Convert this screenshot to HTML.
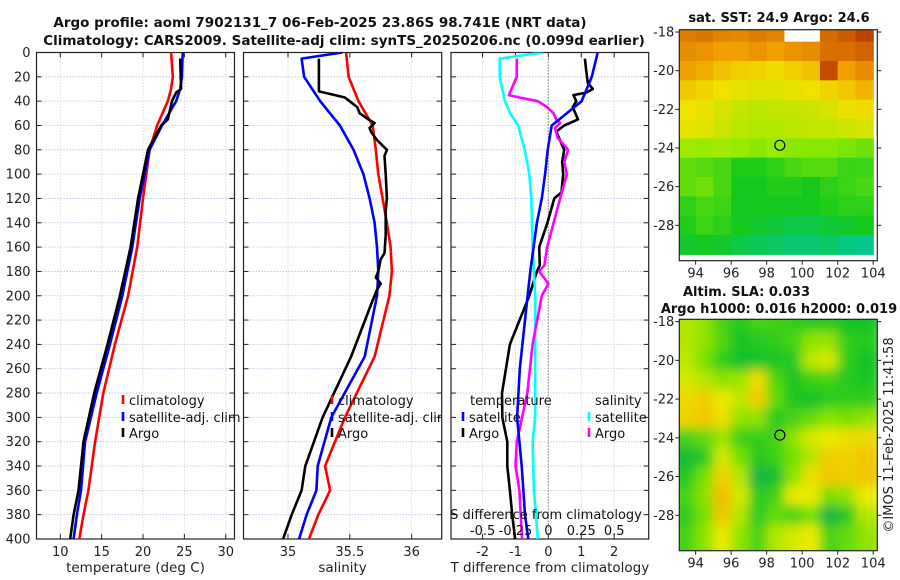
<!DOCTYPE html>
<html><head><meta charset="utf-8">
<style>
html,body{margin:0;padding:0;background:#fff;}
svg{display:block;font-family:"DejaVu Sans","Liberation Sans",sans-serif;}
</style></head>
<body>
<svg id="fig" width="900" height="580" viewBox="0 0 900 580" xmlns="http://www.w3.org/2000/svg">
<defs>
<clipPath id="c1"><rect x="36.5" y="52.5" width="198" height="486.5"/></clipPath>
<clipPath id="c2"><rect x="243.5" y="52.5" width="198.2" height="486.5"/></clipPath>
<clipPath id="c3"><rect x="451" y="52.5" width="197.7" height="486.5"/></clipPath>
<clipPath id="cm1"><rect x="679.3" y="29.7" width="198" height="231"/></clipPath>
<clipPath id="cm2"><rect x="679.3" y="319.3" width="198" height="231.4"/></clipPath>
<filter id="blur" x="-5%" y="-5%" width="110%" height="110%"><feGaussianBlur stdDeviation="5.5"/></filter>
</defs>
<text x="320" y="27" text-anchor="middle" font-weight="bold" font-size="13.5" fill="#111">Argo profile: aoml 7902131_7 06-Feb-2025 23.86S 98.741E (NRT data)</text>
<text x="344" y="45" text-anchor="middle" font-weight="bold" font-size="13.5" fill="#111">Climatology: CARS2009. Satellite-adj clim: synTS_20250206.nc (0.099d earlier)</text>
<g id="g1"></g>
<g id="g2"></g>
<g id="g3"></g>
<g id="gm1"></g>
<g id="gm2"></g>
<text x="0" y="0" transform="translate(893,435) rotate(-90)" text-anchor="middle" font-size="13" fill="#222">©IMOS 11-Feb-2025 11:41:58</text>
</svg>
<script>
// ---- profile data ----
const depthT = [0,20,30,40,60,80,120,160,200,240,280,320,360,380,400];
const tempClim = [23.4,23.6,23.4,23.0,21.7,20.8,20.0,19.3,18.2,16.6,15.2,14.2,13.4,12.8,12.3];
const tempSat = [24.8,24.7,24.5,24.0,22.3,20.8,19.6,18.7,17.5,16.0,14.4,13.0,12.5,12.0,11.6];
const depthTArgo = [5,30,33,40,55,60,80,120,160,200,240,280,320,360,380,400];
const tempArgo = [24.5,24.6,24.0,23.5,23.0,22.2,20.6,19.4,18.5,17.2,15.7,14.1,12.8,12.2,11.6,11.2];

const depthS = [0,20,40,60,80,100,120,140,160,180,200,250,300,340,360,380,400];
const salClim = [35.47,35.49,35.57,35.685,35.71,35.73,35.765,35.80,35.83,35.84,35.82,35.70,35.46,35.30,35.34,35.245,35.17];
const depthSSat = [0,5,20,40,60,80,100,120,140,160,180,200,250,300,340,360,380,400];
const salSat = [35.44,35.11,35.13,35.26,35.42,35.53,35.61,35.66,35.70,35.72,35.73,35.72,35.62,35.35,35.24,35.23,35.15,35.09];
const depthSArgo = [5,32,35,37,45,50,55,58,62,65,72,80,85,100,120,130,150,165,170,180,185,190,195,205,250,300,340,360,380,400];
const salArgo = [35.25,35.25,35.38,35.46,35.56,35.58,35.65,35.70,35.66,35.67,35.72,35.80,35.78,35.79,35.80,35.79,35.79,35.78,35.75,35.73,35.71,35.75,35.72,35.68,35.51,35.28,35.14,35.11,35.03,34.96];

const depthDT = [0,20,40,60,80,100,120,140,160,180,200,260,300,340,380,400];
const dTsat = [1.5,1.32,1.01,0.1,-0.02,-0.1,-0.2,-0.35,-0.45,-0.55,-0.63,-0.87,-0.95,-0.81,-0.71,-0.61];
const depthDTArgo = [5,15,25,30,33,35,40,45,55,60,65,80,90,100,115,120,140,160,175,180,200,240,280,300,320,340,360,380,400];
const dTargo = [1.11,1.15,1.2,1.35,1.15,0.76,0.85,0.74,0.9,0.48,0.24,0.48,0.42,0.45,0.4,0.18,-0.03,-0.28,-0.26,-0.35,-0.58,-1.17,-1.41,-1.4,-1.25,-1.25,-1.17,-1.1,-1.01];
const depthDS = [0,5,20,40,50,60,80,100,120,160,200,300,320,360,400];
const dSsat = [-0.04,-0.37,-0.37,-0.33,-0.29,-0.23,-0.18,-0.145,-0.13,-0.12,-0.10,-0.10,-0.12,-0.11,-0.08];
const depthDSArgo = [5,20,30,35,37,40,45,50,55,58,62,70,80,90,100,120,140,160,175,180,190,200,240,280,320,340,360,380,400];
const dSargo = [-0.24,-0.24,-0.28,-0.30,-0.22,-0.08,-0.01,0.04,0.06,0.09,0.05,0.07,0.15,0.12,0.14,0.09,0.04,-0.01,-0.03,-0.07,0,-0.05,-0.12,-0.16,-0.24,-0.25,-0.22,-0.21,-0.2];

const depthTicks = [0,20,40,60,80,100,120,140,160,180,200,220,240,260,280,300,320,340,360,380,400];
const tempTicks = [10,15,20,25,30];
const salTicks = [35,35.5,36];
const dTTicks = [-2,-1,0,1,2];
const dSTicks = [-0.5,-0.25,0,0.25,0.5];
const dSTickLabels = ['-0.5','-0.25','0','0.25','0.5'];

// ---- maps ----
const lonTicks = [94,96,98,100,102,104];
const latTicks = [-18,-20,-22,-24,-26,-28];
const sstGrid = [
[4.6,4.7,4.5,4.4,4.6,4.5,9,9,4.9,5.1,5.4],
[4.3,4.2,4.0,4.0,4.2,4.0,4.2,4.3,4.8,4.8,5.0],
[4.0,3.8,3.5,3.3,3.2,3.1,3.3,3.5,5.3,4.0,4.3],
[3.4,3.2,3.0,2.9,2.8,2.8,2.9,3.0,3.2,3.4,3.7],
[3.0,2.9,2.7,2.5,2.4,2.5,2.5,2.6,2.7,2.9,3.1],
[2.9,2.8,2.6,2.4,2.3,2.3,2.4,2.5,2.5,2.6,2.7],
[2.1,2.0,2.1,2.0,1.9,2.0,1.9,1.9,1.9,1.8,1.7],
[1.6,1.5,1.4,1.1,1.1,1.2,1.4,1.5,1.5,1.3,1.3],
[1.6,1.7,1.4,1.0,1.0,1.1,1.1,1.0,1.2,1.3,1.4],
[1.2,1.4,1.3,1.0,1.0,1.0,1.0,1.0,1.1,1.2,1.2],
[1.1,1.3,1.2,1.0,0.9,0.8,0.7,0.7,0.8,0.9,1.0],
[0.9,1.0,0.9,0.7,0.6,0.5,0.4,0.4,0.5,0.3,0.2]];
const slaGrid = [
[2.5,2.2,1.5,1.2,1.5,1.4,1.3,1.2,1.2,1.0,1.0],
[2.5,2.2,1.6,1.0,1.2,1.3,1.5,2.2,2.3,1.3,1.2],
[2.6,2.0,1.3,0.9,1.0,1.1,1.2,2.6,2.8,1.3,1.0],
[2.8,2.5,2.2,2.3,3.2,1.6,1.1,1.4,1.5,1.2,1.1],
[3.3,3.5,3.0,2.6,3.5,1.8,1.1,1.0,1.2,1.3,1.3],
[3.4,3.6,3.2,2.2,2.2,1.2,1.5,1.8,2.2,2.0,2.2],
[1.5,1.8,2.3,1.4,1.3,1.5,2.2,2.8,3.0,3.2,3.3],
[0.8,1.2,2.8,2.0,1.2,1.4,2.0,2.5,3.5,3.4,3.6],
[1.2,2.0,3.4,2.5,0.6,0.9,2.2,3.2,3.6,3.5,3.6],
[1.5,2.2,3.8,2.8,1.2,1.5,3.0,3.0,2.0,2.2,3.0],
[1.3,2.0,3.6,2.5,1.2,1.8,1.5,2.0,0.6,1.2,2.5],
[1.5,2.2,3.0,2.2,1.5,2.5,2.8,3.0,1.5,1.8,2.2]];
const floatLon = 98.741, floatLat = -23.86;

const NS='http://www.w3.org/2000/svg';
function mk(tag, attrs, parent){const e=document.createElementNS(NS,tag);for(const k in attrs)e.setAttribute(k,attrs[k]);parent.appendChild(e);return e;}

const Y0=52.5, Y1=539;
const yD = d => Y0 + d*(Y1-Y0)/400;

function panel(g, x0, x1, xmin, xmax, xticks, xlabels, clip, xlabel, showY){
  const xs = v => x0 + (v-xmin)*(x1-x0)/(xmax-xmin);
  depthTicks.forEach(d=>{ if(d>0&&d<400){ const l=mk('line',{x1:x0,x2:x1,y1:yD(d),y2:yD(d),stroke:'#b8bfe6','stroke-width':0.8,'stroke-dasharray':'1.5,1.5'},g);
     }});
  xticks.forEach(v=>{ const l=mk('line',{x1:xs(v),x2:xs(v),y1:Y0,y2:Y1,stroke:'#e0c8d8','stroke-width':0.8,'stroke-dasharray':'1.5,1.5'},g);
     });
  depthTicks.forEach(d=>{
    mk('line',{x1:x0,x2:x0+5,y1:yD(d),y2:yD(d),stroke:'#222','stroke-width':1},g);
    mk('line',{x1:x1,x2:x1-5,y1:yD(d),y2:yD(d),stroke:'#222','stroke-width':1},g);
    if(showY){ const t=mk('text',{x:x0-6,y:yD(d)+4.5,'text-anchor':'end','font-size':13,fill:'#222'},g); t.textContent=d;
       }
  });
  xticks.forEach((v,i)=>{
    mk('line',{x1:xs(v),x2:xs(v),y1:Y1,y2:Y1-5,stroke:'#222','stroke-width':1},g);
    mk('line',{x1:xs(v),x2:xs(v),y1:Y0,y2:Y0+5,stroke:'#222','stroke-width':1},g);
    const t=mk('text',{x:xs(v),y:556,'text-anchor':'middle','font-size':13,fill:'#222'},g); t.textContent=xlabels[i];
     
  });
  const xl=mk('text',{x:(x0+x1)/2,y:572,'text-anchor':'middle','font-size':13.5,fill:'#222'},g); xl.textContent=xlabel;
   
  const r=mk('rect',{x:x0,y:Y0,width:x1-x0,height:Y1-Y0,fill:'none',stroke:'#222','stroke-width':1.2},g);
   
  return xs;
}
function series(g, xs, vals, depths, color, clip, name){
  const pts = vals.map((v,i)=>xs(v).toFixed(1)+','+yD(depths[i]).toFixed(1)).join(' ');
  const p=mk('polyline',{points:pts,fill:'none',stroke:color,'stroke-width':2.6,'stroke-linejoin':'round','clip-path':'url(#'+clip+')'},g);
   
}
function legend(g, x, y, color, label, name){
  mk('line',{x1:x,x2:x,y1:y-6,y2:y+3,stroke:color,'stroke-width':2.6},g);
  const t=mk('text',{x:x+6,y:y+4,'font-size':13,fill:'#111'},g); t.textContent=label;
   
}

const g1=document.getElementById('g1');
const xT = panel(g1,36.5,234.5,7.12,31.06,tempTicks,tempTicks.map(String),'c1','temperature (deg C)',true);
series(g1,xT,tempClim,depthT,'#ff0000','c1','temperature-climatology-line');
series(g1,xT,tempSat,depthT,'#0000ff','c1','temperature-satellite-line');
series(g1,xT,tempArgo,depthTArgo,'#000000','c1','temperature-argo-line');
legend(g1,123,401,'#ff0000','climatology','legend-climatology');
legend(g1,123,418,'#0000ff','satellite-adj. clim','legend-satellite');
legend(g1,123,434,'#000000','Argo','legend-argo');

const g2=document.getElementById('g2');
const xS = panel(g2,243.5,441.7,34.64,36.243,salTicks,['35','35.5','36'],'c2','salinity',false);
series(g2,xS,salClim,depthS,'#ff0000','c2','salinity-climatology-line');
series(g2,xS,salSat,depthSSat,'#0000ff','c2','salinity-satellite-line');
series(g2,xS,salArgo,depthSArgo,'#000000','c2','salinity-argo-line');
const lg2=mk('g',{'clip-path':'url(#c2)'},g2);
legend(lg2,332,401,'#ff0000','climatology','legend-climatology-2');
legend(lg2,332,418,'#0000ff','satellite-adj. clim','legend-satellite-2');
legend(lg2,332,434,'#000000','Argo','legend-argo-2');

const g3=document.getElementById('g3');
const xD = panel(g3,451,648.7,-2.96,3.05,dTTicks,dTTicks.map(String),'c3','T difference from climatology',false);
const xDS = v => xD(v*4);
const zl=mk('line',{x1:xD(0),x2:xD(0),y1:Y0,y2:Y1,stroke:'#556b40','stroke-width':1.2,'stroke-dasharray':'1,2'},g3);
 
series(g3,xD,dTargo,depthDTArgo,'#000000','c3','temperature-diff-argo-line');
series(g3,xDS,dSsat,depthDS,'#00ffff','c3','salinity-diff-satellite-line');
series(g3,xDS,dSargo,depthDSArgo,'#ff00ff','c3','salinity-diff-argo-line');
series(g3,xD,dTsat,depthDT,'#0000ff','c3','temperature-diff-satellite-line');
const tl=mk('text',{x:470,y:405,'font-size':13,fill:'#111'},g3); tl.textContent='temperature';
 
const sl=mk('text',{x:595,y:405,'font-size':13,fill:'#111'},g3); sl.textContent='salinity';
 
legend(g3,463,418,'#0000ff','satellite','legend-t-satellite');
legend(g3,463,434,'#000000','Argo','legend-t-argo');
legend(g3,589,418,'#00ffff','satellite','legend-s-satellite');
legend(g3,589,434,'#ff00ff','Argo','legend-s-argo');
const st=mk('text',{x:546,y:519,'text-anchor':'middle','font-size':13,fill:'#111'},g3); st.textContent='S difference from climatology';
 
dSTicks.forEach((v,i)=>{ const t=mk('text',{x:xDS(v),y:535,'text-anchor':'middle','font-size':13,fill:'#111'},g3); t.textContent=dSTickLabels[i];
   });

function colorRamp(stops, v){
  if(v<=0) return stops[0];
  if(v>=stops.length-1) return stops[stops.length-1];
  const i=Math.floor(v), f=v-i, a=stops[i], b=stops[i+1];
  return [0,1,2].map(k=>Math.round(a[k]+(b[k]-a[k])*f));
}
const sstStops=[[0,200,170],[20,200,30],[150,235,0],[240,225,0],[240,160,0],[210,100,0],[160,20,0]];
const slaStops=[[16,160,110],[20,195,40],[120,225,0],[235,235,0],[245,175,0]];
function map(g, X0, X1, Yt, Yb, latTop, latBot, grid, stops, clip, blur, titleLines){
  const lonMin=93.08, lonMax=104.23;
  const xs=v=>X0+(v-lonMin)*(X1-X0)/(lonMax-lonMin);
  const ys=v=>Yt+(latTop-v)*(Yb-Yt)/(latTop-latBot);
  const cg=mk('g',{'clip-path':'url(#'+clip+')'},g);
  const inner=mk('g',blur?{filter:'url(#blur)'}:{},cg);
  const nr=grid.length, nc=grid[0].length;
  for(let r=0;r<nr;r++)for(let c=0;c<nc;c++){
    const v=grid[r][c];
    const lon0=93+c, lat0=-17.5-r;
    const col = v>=9 ? [255,255,255] : colorRamp(stops,v);
    const pad = blur?8:0;
    const x=xs(lon0)-(c===0?pad:0), y=ys(lat0)-(r===0?pad:0);
    const w=xs(lon0+1)-xs(lon0)+0.6+(c===0?pad:0)+(c===nc-1?pad:0);
    const h=ys(lat0-1)-ys(lat0)+0.6+(r===0?pad:0)+(r===nr-1?pad*2:0);
    const cell=mk('rect',{x:x,y:y,width:w,height:h,fill:'rgb('+col.join(',')+')'},inner);
     
  }
  const ci=mk('circle',{cx:xs(floatLon),cy:ys(floatLat),r:5,fill:'none',stroke:'#000','stroke-width':1.2},g);
   
  mk('rect',{x:X0,y:Yt,width:X1-X0,height:Yb-Yt,fill:'none',stroke:'#222','stroke-width':1.2},g);
  lonTicks.forEach(v=>{ mk('line',{x1:xs(v),x2:xs(v),y1:Yb,y2:Yb+4,stroke:'#222'},g);
    const t=mk('text',{x:xs(v),y:Yb+17,'text-anchor':'middle','font-size':13,fill:'#222'},g); t.textContent=v;
     });
  latTicks.forEach(v=>{ mk('line',{x1:X0-4,x2:X0,y1:ys(v),y2:ys(v),stroke:'#222'},g);
    mk('line',{x1:X1,x2:X1+4,y1:ys(v),y2:ys(v),stroke:'#222'},g);
    const t=mk('text',{x:X0-5,y:ys(v)+4.5,'text-anchor':'end','font-size':13,fill:'#222'},g); t.textContent=v;
     });
  titleLines.forEach(tl=>{ const t=mk('text',{x:tl[0],y:tl[1],'text-anchor':tl[3],'font-size':13,'font-weight':'bold',fill:'#111'},g); t.textContent=tl[2];
     });
}
map(document.getElementById('gm1'),679.3,877.3,29.7,260.7,-17.88,-29.83,sstGrid,sstStops,'cm1',false,
  [[779,22,'sat. SST: 24.9 Argo: 24.6','middle']]);
map(document.getElementById('gm2'),679.3,877.3,319.3,550.7,-17.88,-29.83,slaGrid,slaStops,'cm2',true,
  [[683,296,'Altim. SLA: 0.033','start'],[779,313,'Argo h1000: 0.016 h2000: 0.019','middle']]);
</script>
</body></html>
